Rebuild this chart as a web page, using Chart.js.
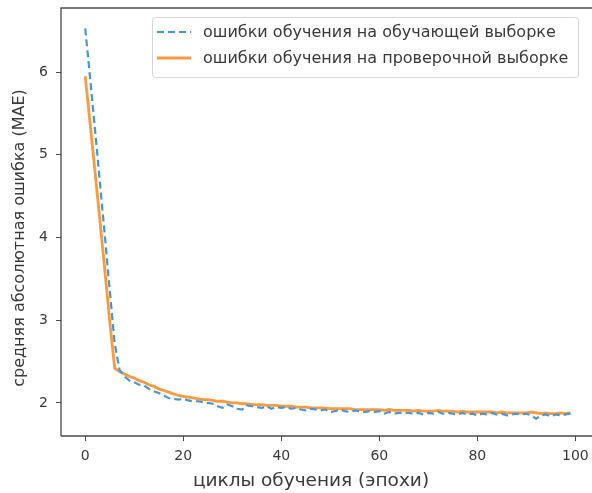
<!DOCTYPE html>
<html>
<head>
<meta charset="utf-8">
<script src="https://cdn.jsdelivr.net/npm/chart.js@4"></script>
<style>
html,body{margin:0;padding:0;background:#fff;}
#wrap{width:592px;height:493px;position:relative;}
</style>
</head>
<body>
<div id="wrap"><canvas id="c" width="592" height="493"></canvas></div>
<script>
const seriesNames = ["ошибки обучения на обучающей выборке", "ошибки обучения на проверочной выборке"];
const xTitle = "циклы обучения (эпохи)";
const yTitle = "средняя абсолютная ошибка (MAE)";
const xTicks = [0, 20, 40, 60, 80, 100];
const yTicks = [2, 3, 4, 5, 6];

const trainMAE = [
  6.53, 5.92, 5.30, 4.66, 4.02, 3.36, 2.72, 2.40, 2.32, 2.27,
  2.25, 2.22, 2.21, 2.17, 2.14, 2.12, 2.09, 2.06, 2.05, 2.04,
  2.05, 2.03, 2.02, 2.02, 2.01, 2.00, 1.99, 1.96, 1.94, 1.98,
  1.96, 1.93, 1.92, 1.97, 1.96, 1.95, 1.94, 1.96, 1.93, 1.95,
  1.94, 1.95, 1.93, 1.94, 1.92, 1.91, 1.93, 1.92, 1.91, 1.92,
  1.89, 1.90, 1.92, 1.90, 1.89, 1.91, 1.90, 1.89, 1.90, 1.89,
  1.90, 1.87, 1.89, 1.87, 1.88, 1.88, 1.88, 1.87, 1.88, 1.86,
  1.88, 1.87, 1.89, 1.87, 1.88, 1.87, 1.86, 1.88, 1.86, 1.87,
  1.85, 1.87, 1.86, 1.88, 1.86, 1.87, 1.85, 1.86, 1.87, 1.86,
  1.87, 1.85, 1.81, 1.85, 1.86, 1.84, 1.86, 1.85, 1.86, 1.87
];
const valMAE = [
  5.95, 5.37, 4.79, 4.20, 3.60, 2.98, 2.42, 2.38, 2.35, 2.32,
  2.30, 2.27, 2.25, 2.22, 2.20, 2.17, 2.15, 2.13, 2.11, 2.09,
  2.08, 2.07, 2.06, 2.05, 2.04, 2.04, 2.03, 2.02, 2.02, 2.01,
  2.00, 2.00, 1.99, 1.99, 1.98, 1.98, 1.98, 1.97, 1.97, 1.97,
  1.96, 1.96, 1.96, 1.95, 1.95, 1.95, 1.94, 1.94, 1.94, 1.94,
  1.93, 1.93, 1.93, 1.93, 1.93, 1.92, 1.92, 1.92, 1.92, 1.92,
  1.92, 1.91, 1.92, 1.91, 1.91, 1.91, 1.91, 1.90, 1.91, 1.90,
  1.90, 1.90, 1.91, 1.90, 1.90, 1.90, 1.89, 1.90, 1.89, 1.89,
  1.89, 1.89, 1.89, 1.89, 1.88, 1.89, 1.88, 1.88, 1.88, 1.88,
  1.88, 1.89, 1.88, 1.87, 1.88, 1.87, 1.87, 1.88, 1.87, 1.88
];

const BLUE = '#4a96d2';
const ORANGE = '#ff9a40';
const TEXT = '#3a3a3a';
const FRAME = '#4a4a4a';
const FONT = "'DejaVu Sans', sans-serif";

const toPts = arr => arr.map((v, i) => ({x: i, y: v}));

const framePlugin = {
  id: 'frame',
  afterDatasetsDraw(chart) {
    const {ctx, chartArea: a} = chart;
    ctx.save();
    ctx.strokeStyle = FRAME;
    ctx.lineWidth = 1.3;
    ctx.beginPath();
    ctx.moveTo(a.left, a.bottom);
    ctx.lineTo(a.left, a.top);
    ctx.lineTo(a.right + 5, a.top);
    ctx.moveTo(a.left, a.bottom);
    ctx.lineTo(a.right + 5, a.bottom);
    ctx.stroke();
    ctx.restore();
  },
  afterDraw(chart) {
    const {ctx} = chart;
    ctx.save();
    // axis titles
    ctx.fillStyle = TEXT;
    ctx.textAlign = 'center';
    ctx.textBaseline = 'middle';
    ctx.font = "18.5px " + FONT;
    ctx.fillText(xTitle, 311, 481);
    ctx.save();
    ctx.translate(20, 238);
    ctx.rotate(-Math.PI / 2);
    ctx.font = "16px " + FONT;
    ctx.fillText(yTitle, 0, 0);
    ctx.restore();
    // legend box
    ctx.textAlign = 'left';
    const bx = 152.5, by = 17.5, bw = 426, bh = 60;
    ctx.fillStyle = 'rgba(255,255,255,0.9)';
    ctx.strokeStyle = '#d6d6d6';
    ctx.lineWidth = 1;
    ctx.beginPath();
    ctx.roundRect(bx, by, bw, bh, 3);
    ctx.fill();
    ctx.stroke();
    const rows = [
      {y: 32, color: BLUE, dash: [7, 4], w: 2.2, label: seriesNames[0]},
      {y: 58, color: ORANGE, dash: [], w: 2.8, label: seriesNames[1]}
    ];
    ctx.font = "16px " + FONT;
    rows.forEach(r => {
      ctx.strokeStyle = r.color;
      ctx.lineWidth = r.w;
      ctx.setLineDash(r.dash);
      ctx.beginPath();
      ctx.moveTo(157, r.y);
      ctx.lineTo(191, r.y);
      ctx.stroke();
      ctx.setLineDash([]);
      ctx.fillStyle = TEXT;
      ctx.fillText(r.label, 203, r.y + 1);
    });
    ctx.restore();
  }
};

new Chart(document.getElementById('c'), {
  type: 'line',
  data: {
    datasets: [
      {
        label: seriesNames[0],
        data: toPts(trainMAE),
        borderColor: BLUE,
        borderWidth: 2.2,
        borderDash: [7, 4],
        pointRadius: 0,
        tension: 0,
        fill: false
      },
      {
        label: seriesNames[1],
        data: toPts(valMAE),
        borderColor: ORANGE,
        borderWidth: 2.8,
        pointRadius: 0,
        tension: 0,
        fill: false
      }
    ]
  },
  options: {
    responsive: false,
    animation: false,
    layout: {padding: {left: 0, right: 0, top: 8, bottom: 0}},
    plugins: {legend: {display: false}, tooltip: {enabled: false}},
    scales: {
      x: {
        type: 'linear',
        min: -4.95,
        max: 103.4,
        afterFit(s) { s.height = 493 - 436; s.paddingLeft = 0; s.paddingRight = 0; },
        afterBuildTicks(s) { s.ticks = xTicks.map(v => ({value: v})); },
        grid: {display: true, drawOnChartArea: false, drawTicks: true, tickLength: 5, color: FRAME, lineWidth: 1},
        border: {display: false},
        ticks: {color: TEXT, font: {family: FONT, size: 14}, padding: 7, maxRotation: 0, autoSkip: false},
        title: {display: false}
      },
      y: {
        type: 'linear',
        min: 1.6,
        max: 6.776,
        afterFit(s) { s.width = 61; s.paddingTop = 0; s.paddingBottom = 0; },
        afterBuildTicks(s) { s.ticks = yTicks.map(v => ({value: v})); },
        grid: {display: true, drawOnChartArea: false, drawTicks: true, tickLength: 5, color: FRAME, lineWidth: 1},
        border: {display: false},
        ticks: {color: TEXT, font: {family: FONT, size: 14}, padding: 8},
        title: {display: false}
      }
    }
  },
  plugins: [framePlugin]
});
</script>
</body>
</html>
